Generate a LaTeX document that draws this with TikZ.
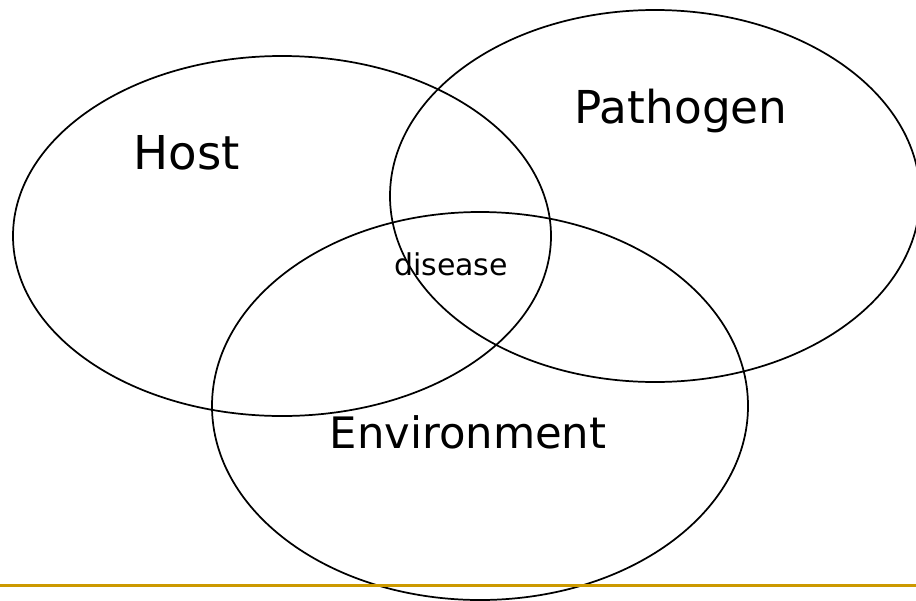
\documentclass[tikz,border=0pt]{standalone}
\usepackage{fontspec}
\setmainfont{DejaVu Sans}
\usepackage{xcolor}
\usepackage{tikz}
\definecolor{rulegold}{RGB}{204,153,0}

\begin{document}
\begin{tikzpicture}[x=0.75pt, y=-0.75pt, every node/.style={align=center,inner sep=0pt},
 venn/.style={draw=black, line width=1.3pt},
 biglabel/.style={font=\fontsize{34}{40}\selectfont},
 smalllabel/.style={font=\fontsize{22.5}{26}\selectfont}]
\useasboundingbox (0,0) rectangle (916,600);
\draw[venn] (282,236) ellipse [x radius=269, y radius=180];
\draw[venn] (655,196) ellipse [x radius=265, y radius=186];
\draw[venn] (480,406) ellipse [x radius=268, y radius=194];
\node[biglabel, font=\fontsize{35}{40}\selectfont] (host) at (187,153) {Host};
\node[biglabel] (pathogen) at (681,111) {Pathogen};
\node[biglabel, font=\fontsize{32.5}{38}\selectfont] (environment) at (468,432) {Environment};
\node[smalllabel] (disease) at (451,264) {disease};
\draw[rulegold, line width=2.6pt] (0,585.5) -- (916,585.5);
\end{tikzpicture}
\end{document}
